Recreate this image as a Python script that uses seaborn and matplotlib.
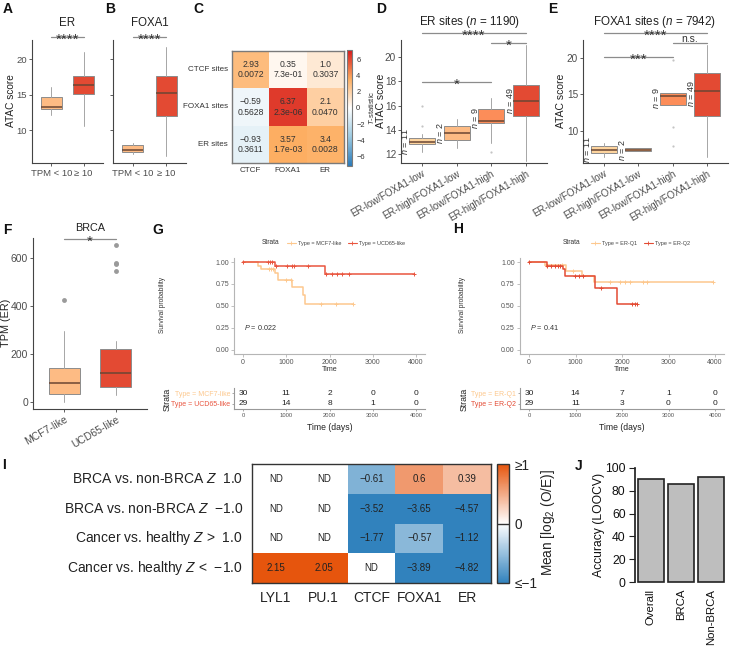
import numpy as np
import pandas as pd
import matplotlib
matplotlib.use('Agg')
import matplotlib.pyplot as plt
import matplotlib.transforms as mtransforms
from matplotlib.colors import LinearSegmentedColormap
from matplotlib.lines import Line2D
from matplotlib.ticker import FormatStrFormatter
import seaborn as sns

# ---------------- data ----------------
A_groups = ["TPM < 10", "≥ 10"]
A_q1 = [12.95, 15.05]
A_med = [13.25, 16.3]
A_q3 = [14.65, 17.6]
A_lo = [12.1, 10.6]
A_hi = [16.0, 21.0]

B_q1 = [6.95, 12.0]
B_med = [7.2, 15.2]
B_q3 = [7.85, 17.65]
B_lo = [6.6, 6.3]
B_hi = [8.2, 21.7]

C_rows = ["CTCF sites", "FOXA1 sites", "ER sites"]
C_cols = ["CTCF", "FOXA1", "ER"]
C_t = [[2.93, 0.35, 1.0], [-0.59, 6.37, 2.1], [-0.93, 3.57, 3.4]]
C_tlab = [["2.93", "0.35", "1.0"], ["−0.59", "6.37", "2.1"], ["−0.93", "3.57", "3.4"]]
C_p = [["0.0072", "7.3e-01", "0.3037"], ["0.5628", "2.3e-06", "0.0470"], ["0.3611", "1.7e-03", "0.0028"]]

D_groups = ["ER-low/FOXA1-low", "ER-high/FOXA1-low", "ER-low/FOXA1-high", "ER-high/FOXA1-high"]
D_n = [11, 2, 9, 49]
D_q1 = [12.83, 13.15, 14.55, 15.14]
D_med = [13.0, 13.7, 14.75, 16.4]
D_q3 = [13.3, 14.3, 15.7, 17.7]
D_lo = [12.2, 12.5, 12.9, 11.4]
D_hi = [13.65, 14.85, 16.6, 21.0]
D_out = [[16.0, 14.3], [], [12.2], []]

E_n = [11, 2, 9, 49]
E_q1 = [6.9, 7.2, 13.5, 12.05]
E_med = [7.35, 7.4, 14.8, 15.45]
E_q3 = [7.95, 7.6, 15.2, 17.9]
E_lo = [6.45, 7.2, 13.5, 6.4]
E_hi = [8.4, 7.6, 15.2, 21.7]
E_out = [[], [], [19.6, 10.5, 7.9], []]

F_groups = ["MCF7-like", "UCD65-like"]
F_q1 = [33, 61]
F_med = [78, 119]
F_q3 = [140, 219]
F_lo = [0, 29]
F_hi = [296, 255]
F_out = [[425], [545, 573, 578, 654]]

G_labels = ["Type = MCF7-like", "Type = UCD65-like"]
G1_t = [0, 350, 420, 740, 800, 1130, 1380, 1430, 2540]
G1_s = [1.0, 0.96, 0.92, 0.88, 0.80, 0.72, 0.62, 0.52, 0.52]
G1_cens = [600, 650, 700, 1000, 1100, 1800, 2150, 2540]
G2_t = [0, 740, 1900, 3960]
G2_s = [1.0, 0.95, 0.86, 0.86]
G2_cens = [0, 570, 620, 660, 760, 1010, 1125, 1180, 1510, 1930, 2050, 2170, 2285, 2460, 3960]
G_risk_t = [0, 1000, 2000, 3000, 4000]
G_risk1 = [30, 11, 2, 0, 0]
G_risk2 = [29, 14, 8, 1, 0]
G_p = "0.022"

H_labels = ["Type = ER-Q1", "Type = ER-Q2"]
H1_t = [0, 350, 790, 1150, 1400, 3960]
H1_s = [1.0, 0.967, 0.90, 0.84, 0.77, 0.77]
H1_cens = [370, 700, 950, 1740, 1950, 2065, 2170, 2460, 2530, 3960]
H2_t = [0, 380, 724, 775, 1419, 1885, 2315]
H2_s = [1.0, 0.96, 0.92, 0.846, 0.70, 0.527, 0.527]
H2_cens = [0, 394, 466, 560, 616, 667, 990, 1083, 1154, 1548, 2208, 2280, 2315]
H_risk1 = [30, 14, 7, 1, 0]
H_risk2 = [29, 11, 3, 0, 0]
H_p = "0.41"

I_rows = ["BRCA vs. non-BRCA $Z$  1.0", "BRCA vs. non-BRCA $Z$  −1.0",
          "Cancer vs. healthy $Z$ >  1.0", "Cancer vs. healthy $Z$ <  −1.0"]
I_cols = ["LYL1", "PU.1", "CTCF", "FOXA1", "ER"]
I_vals = [[np.nan, np.nan, -0.61, 0.6, 0.39],
          [np.nan, np.nan, -3.52, -3.65, -4.57],
          [np.nan, np.nan, -1.77, -0.57, -1.12],
          [2.15, 2.05, np.nan, -3.89, -4.82]]

J_cats = ["Overall", "BRCA", "Non-BRCA"]
J_vals = [90.0, 86.0, 92.3]

# ---------------- style ----------------
sns.set_theme(style='ticks')
plt.rcParams['font.family'] = ['Liberation Sans', 'DejaVu Sans']
plt.rcParams['mathtext.fontset'] = 'custom'
plt.rcParams['mathtext.rm'] = 'Liberation Sans'
plt.rcParams['mathtext.it'] = 'Liberation Sans:italic'
plt.rcParams['axes.unicode_minus'] = True

W, H = 730, 650
fig = plt.figure(figsize=(7.3, 6.5), dpi=100)
fig.patch.set_facecolor('white')


def add_ax(box):
    l, t, r, b = box
    return fig.add_axes([l / W, 1 - b / H, (r - l) / W, (b - t) / H])


def ft(x, y, s, **kw):
    return fig.text(x / W, 1 - y / H, s, **kw)


def style(ax, fs=7, spc='#444444', lc='#4d4d4d', tl=2.5):
    for s in ['top', 'right']:
        ax.spines[s].set_visible(False)
    for s in ['left', 'bottom']:
        ax.spines[s].set_color(spc)
        ax.spines[s].set_linewidth(0.8)
    ax.tick_params(axis='both', length=tl, width=0.6, color=spc, labelcolor=lc,
                   labelsize=fs, pad=1.5, direction='out')
    ax.set_facecolor('none')
    ax.grid(False)


def boxes(ax, q1, med, q3, lo, hi, out, colors, width, fl_ms=1.6, fl_c='#c4c4c4'):
    stats = []
    for a, m, c, l, h, f in zip(q1, med, q3, lo, hi, out):
        stats.append(dict(q1=a, med=m, q3=c, whislo=l, whishi=h, fliers=f))
    pos = list(range(len(stats)))
    bp = ax.bxp(stats, positions=pos, widths=width, patch_artist=True, showcaps=False,
                boxprops=dict(edgecolor='#8c8c8c', linewidth=0.7),
                medianprops=dict(color='#6b4633', linewidth=1.1),
                whiskerprops=dict(color='#a6a6a6', linewidth=0.7),
                flierprops=dict(marker='o', markerfacecolor=fl_c, markeredgecolor='none',
                                markersize=fl_ms))
    for p, c in zip(bp['boxes'], colors):
        p.set_facecolor(c)
    ax.set_xlim(-0.6, len(stats) - 0.4)
    ax.set_xticks(pos)


def sig(ax, box, x1, x2, ypx, text, fs=11, dy=6.5):
    l, t, r, b = box
    hh = b - t
    tr = mtransforms.blended_transform_factory(ax.transData, ax.transAxes)
    yf = (b - ypx) / hh
    ax.plot([x1, x2], [yf, yf], transform=tr, color='#8c8c8c', lw=0.9, clip_on=False)
    ax.text((x1 + x2) / 2, (b - (ypx + dy)) / hh, text, transform=tr, ha='center',
            va='baseline', fontsize=fs, color='#333333', clip_on=False)


def nlabels(ax, ns, q1, med, q3, width):
    for i, (n, a, m, c) in enumerate(zip(ns, q1, med, q3)):
        ax.text(i - width / 2 - 0.1, (a + m + c) / 3, f"$n$ = {n}", rotation=90,
                ha='center', va='center', fontsize=6.5, color='#333333')


LIGHT = '#fdbb84'
RED = '#e34a33'
D_cols = ['#fdd49e', '#fdbb84', '#fc8d59', '#e34a33']

# ---------------- A ----------------
boxA = (32, 40, 103, 163)
axA = add_ax(boxA)
boxes(axA, A_q1, A_med, A_q3, A_lo, A_hi, [[], []], [LIGHT, RED], 0.63)
axA.set_ylim(5.35, 22.7)
axA.set_yticks([10, 15, 20])
axA.set_xticklabels(A_groups)
style(axA, fs=6.8)
axA.tick_params(axis='y', pad=1)
sig(axA, boxA, 0, 1, 37, "****")
ft(67, 23, "ER", ha='center', va='center', fontsize=8.3, color='#222222')
ft(11.5, 101, "ATAC score", rotation=90, ha='center', va='center', fontsize=7.3, color='#222222')

# ---------------- B ----------------
boxB = (113, 40, 186, 163)
axB = add_ax(boxB)
boxes(axB, B_q1, B_med, B_q3, B_lo, B_hi, [[], []], [LIGHT, RED], 0.63)
axB.set_ylim(5.35, 22.7)
axB.set_yticks([10, 15, 20])
axB.set_yticklabels([])
axB.set_xticklabels(A_groups)
style(axB, fs=6.8)
sig(axB, boxB, 0, 1, 37, "****")
ft(150, 23, "FOXA1", ha='center', va='center', fontsize=8.3, color='#222222')

# ---------------- C ----------------
boxC = (232, 51, 344, 163)
axC = add_ax(boxC)
caxC = add_ax((347, 50, 352, 166))
cmapC = LinearSegmentedColormap.from_list('tstat', ['#2b7bba', '#9ccae1', '#ffffff', '#fdae61', '#d7191c'])
dfC = pd.DataFrame(C_t, index=C_rows, columns=C_cols)
sns.heatmap(dfC, ax=axC, cmap=cmapC, vmin=-7.2, vmax=7.2, cbar_ax=caxC, linewidths=0)
for i in range(len(C_rows)):
    for j in range(len(C_cols)):
        axC.text(j + 0.5, i + 0.5, C_tlab[i][j] + "\n" + C_p[i][j], ha='center', va='center',
                 fontsize=6.2, color='#333333', linespacing=1.15)
axC.set_yticklabels(C_rows, rotation=0)
axC.set_xticklabels(C_cols, rotation=0)
axC.tick_params(length=0, labelsize=5.8, labelcolor='#333333', pad=3)
for s in axC.spines.values():
    s.set_visible(True)
    s.set_color('#7a7a7a')
    s.set_linewidth(1.0)
cbC = axC.collections[0].colorbar
cbC.set_ticks([-6, -4, -2, 0, 2, 4, 6])
cbC.outline.set_edgecolor('#7a7a7a')
cbC.outline.set_linewidth(0.8)
caxC.tick_params(which='both', left=True, right=True, direction='in', length=1.5, width=0.6,
                 color='white', labelsize=5.4, labelcolor='#333333', pad=3)
ft(371, 108, "$T$-statistic", rotation=90, ha='center', va='center', fontsize=5.5, color='#333333')

# ---------------- D ----------------
boxD = (401, 40, 547, 163)
axD = add_ax(boxD)
boxes(axD, D_q1, D_med, D_q3, D_lo, D_hi, D_out, D_cols, 0.75)
axD.set_ylim(11.26, 21.4)
axD.set_yticks([12, 14, 16, 18, 20])
style(axD, fs=7.2)
axD.tick_params(axis='y', pad=1)
axD.set_xticklabels(D_groups, rotation=30, ha='right', rotation_mode='anchor', fontsize=7)
nlabels(axD, D_n, D_q1, D_med, D_q3, 0.75)
sig(axD, boxD, 0, 3, 33, "****")
sig(axD, boxD, 2, 3, 43, "*")
sig(axD, boxD, 0, 2, 82, "*")
ft(470, 22, "ER sites ($n$ = 1190)", ha='center', va='center', fontsize=8.4, color='#222222')
ft(380.5, 101, "ATAC score", rotation=90, ha='center', va='center', fontsize=7.5, color='#222222')

# ---------------- E ----------------
boxE = (583, 40, 728, 163)
axE = add_ax(boxE)
boxes(axE, E_q1, E_med, E_q3, E_lo, E_hi, E_out, D_cols, 0.75)
axE.set_ylim(5.6, 22.4)
axE.set_yticks([10, 15, 20])
style(axE, fs=7.2)
axE.tick_params(axis='y', pad=1)
axE.set_xticklabels(D_groups, rotation=30, ha='right', rotation_mode='anchor', fontsize=7)
nlabels(axE, E_n, E_q1, E_med, E_q3, 0.75)
sig(axE, boxE, 0, 3, 33, "****")
sig(axE, boxE, 2, 3, 43, "n.s.", fs=7.5, dy=-1)
sig(axE, boxE, 0, 2, 57, "***")
ft(655, 22, "FOXA1 sites ($n$ = 7942)", ha='center', va='center', fontsize=8.4, color='#222222')
ft(561, 101, "ATAC score", rotation=90, ha='center', va='center', fontsize=7.5, color='#222222')

# ---------------- F ----------------
boxF = (33, 238, 147, 409)
axF = add_ax(boxF)
boxes(axF, F_q1, F_med, F_q3, F_lo, F_hi, F_out, [LIGHT, RED], 0.6, fl_ms=3.5, fl_c='#9a9a9a')
axF.set_ylim(-29, 683)
axF.set_yticks([0, 200, 400, 600])
style(axF, fs=7.5)
axF.tick_params(axis='y', pad=1)
axF.set_xticklabels(F_groups, rotation=30, ha='right', rotation_mode='anchor', fontsize=7.5)
sig(axF, boxF, 0, 1, 239, "*")
ft(90, 228, "BRCA", ha='center', va='center', fontsize=7.8, color='#222222')
ft(6.5, 323, "TPM (ER)", rotation=90, ha='center', va='center', fontsize=7.8, color='#222222')


# ---------------- KM helpers ----------------
def km(ax, t, s, cens, color):
    sns.lineplot(x=t, y=s, drawstyle='steps-post', color=color, lw=1.1, ax=ax,
                 estimator=None, sort=False)
    ta = np.asarray(t)
    sa = np.asarray(s)
    cs = sa[np.searchsorted(ta, cens, side='right') - 1]
    ax.plot(cens, cs, ls='none', marker='+', ms=3.5, mew=0.7, color=color)


def km_panel(box, tbox, curves, labels, colors, risk1, risk2, pval, xc, strata_x, legend_x,
             strata_leg_x, surv_x):
    ax = add_ax(box)
    for (t, s, c), col in zip(curves, colors):
        km(ax, t, s, c, col)
    ax.set_xlim(-200, 4200)
    ax.set_ylim(-0.05, 1.05)
    ax.set_xticks(G_risk_t)
    ax.set_yticks([0, 0.25, 0.5, 0.75, 1.0])
    ax.yaxis.set_major_formatter(FormatStrFormatter('%.2f'))
    style(ax, fs=5, spc='#b5b5b5', lc='#555555', tl=2)
    ax.tick_params(axis='x', pad=1)
    ax.set_xlabel('')
    ax.set_ylabel('')
    ax.text(0.05, 0.28, f"$P$ = {pval}", transform=ax.transAxes, fontsize=5.2, color='#333333',
            ha='left', va='center')
    ft(xc, 369.5, "Time", ha='center', va='center', fontsize=5.2, color='#333333')
    ft(surv_x, 305, "Survival probability", rotation=90, ha='center', va='center', fontsize=4.8,
       color='#333333')
    handles = [Line2D([], [], color=c, marker='+', ms=3, mew=0.6, lw=0.8) for c in colors]
    ft(strata_leg_x, 243, "Strata", ha='left', va='center', fontsize=4.8, color='#333333')
    ax.legend(handles, labels, loc='center left', bbox_to_anchor=(legend_x / W, 1 - 243 / H),
              bbox_transform=fig.transFigure, ncol=2, frameon=False, fontsize=4,
              handlelength=1.6, handletextpad=0.4, columnspacing=1.2, borderpad=0,
              labelcolor='#444444')
    # risk table
    tx = add_ax(tbox)
    tx.set_xlim(-200, 4200)
    tx.set_ylim(-0.5, 1.5)
    for k, tk in enumerate(G_risk_t):
        tx.text(tk, 1, str(risk1[k]), ha='center', va='center', fontsize=6, color='#222222')
        tx.text(tk, 0, str(risk2[k]), ha='center', va='center', fontsize=6, color='#222222')
    tx.set_xticks(G_risk_t)
    tx.set_yticks([1, 0])
    tx.set_yticklabels(labels)
    style(tx, fs=4.2, spc='#999999', lc='#555555', tl=1.5)
    tx.tick_params(axis='y', labelsize=5)
    for lab, c in zip(tx.get_yticklabels(), colors):
        lab.set_color(c)
    ft(xc, 427, "Time (days)", ha='center', va='center', fontsize=6.2, color='#222222')
    ft(strata_x, 399, "Strata", rotation=90, ha='center', va='center', fontsize=6.3, color='#222222')
    return ax


km_panel((234.35, 257.6, 424.65, 354.4), (234.35, 388, 424.65, 409),
         [(G1_t, G1_s, G1_cens), (G2_t, G2_s, G2_cens)], G_labels, ['#fdc88e', '#e9553f'],
         G_risk1, G_risk2, G_p, 329.5, 167, 284, 262, 163)
km_panel((519.7, 257.6, 724.3, 354.4), (519.7, 388, 724.3, 409),
         [(H1_t, H1_s, H1_cens), (H2_t, H2_s, H2_cens)], H_labels, ['#fdc88e', '#e34a33'],
         H_risk1, H_risk2, H_p, 622, 464, 588, 563, 463)

# ---------------- I ----------------
boxI = (252, 464, 491, 583)
axI = add_ax(boxI)
caxI = add_ax((497, 464, 509, 583))
cmapI = LinearSegmentedColormap.from_list('oe', ['#3182bd', '#ffffff', '#e6550d'])
dfI = pd.DataFrame(I_vals, index=I_rows, columns=I_cols)
sns.heatmap(dfI, ax=axI, cmap=cmapI, vmin=-1, vmax=1, cbar_ax=caxI, linewidths=0)
axI.set_facecolor('white')
for i in range(len(I_rows)):
    for j in range(len(I_cols)):
        v = I_vals[i][j]
        lab = "ND" if np.isnan(v) else f"{v:g}".replace('-', '−')
        axI.text(j + 0.5, i + 0.5, lab, ha='center', va='center', fontsize=7, color='#222222')
axI.set_yticklabels(I_rows, rotation=0)
axI.set_xticklabels(I_cols, rotation=0)
axI.tick_params(length=0, labelsize=10, labelcolor='#222222')
axI.tick_params(axis='y', pad=6.5)
axI.tick_params(axis='x', pad=6)
for s in axI.spines.values():
    s.set_visible(True)
    s.set_color('#333333')
    s.set_linewidth(1.0)
cbI = axI.collections[0].colorbar
cbI.set_ticks([-1, 0, 1])
cbI.set_ticklabels(["≤−1", "0", "≥1"])
cbI.outline.set_edgecolor('#333333')
cbI.outline.set_linewidth(1.0)
caxI.tick_params(length=0, labelsize=9.8, labelcolor='#222222', pad=4)
caxI.axhline(0, color='#333333', lw=1.0)
ft(548, 523, "Mean [log$_2$ (O/E)]", rotation=90, ha='center', va='center', fontsize=9.8,
   color='#222222')

# ---------------- J ----------------
boxJ = (636, 464, 726, 586)
axJ = add_ax(boxJ)
sns.barplot(x=J_cats, y=J_vals, color='#bebebe', edgecolor='#222222', linewidth=1.2,
            width=0.85, saturation=1, ax=axJ)
axJ.set_xlim(-0.5, 2.5)
axJ.set_ylim(-3.5, 103.5)
axJ.set_yticks([0, 20, 40, 60, 80, 100])
for s in ['top', 'right', 'bottom']:
    axJ.spines[s].set_visible(False)
axJ.spines['left'].set_bounds(0, 100)
axJ.spines['left'].set_color('#222222')
axJ.spines['left'].set_position(('outward', 1))
axJ.tick_params(axis='y', length=4.5, width=0.8, color='#222222', labelsize=8.7,
                labelcolor='#111111', pad=2)
axJ.tick_params(axis='x', length=0, labelsize=8.2, labelcolor='#111111', pad=2, rotation=90)
axJ.set_facecolor('none')
axJ.set_xlabel('')
axJ.set_ylabel('')
ft(599, 525, "Accuracy (LOOCV)", rotation=90, ha='center', va='center', fontsize=8.7,
   color='#111111')

# ---------------- panel letters ----------------
for letter, x, y in [("A", 3, 2), ("B", 105, 2), ("C", 193, 2), ("D", 376, 2), ("E", 548, 2),
                     ("F", 3, 223), ("G", 152, 223), ("H", 453, 222), ("I", 2, 458), ("J", 575, 459)]:
    ft(x, y, letter, ha='left', va='top', fontsize=10, fontweight='bold', color='#111111')

fig.savefig('out.png', dpi=100, facecolor='white')
